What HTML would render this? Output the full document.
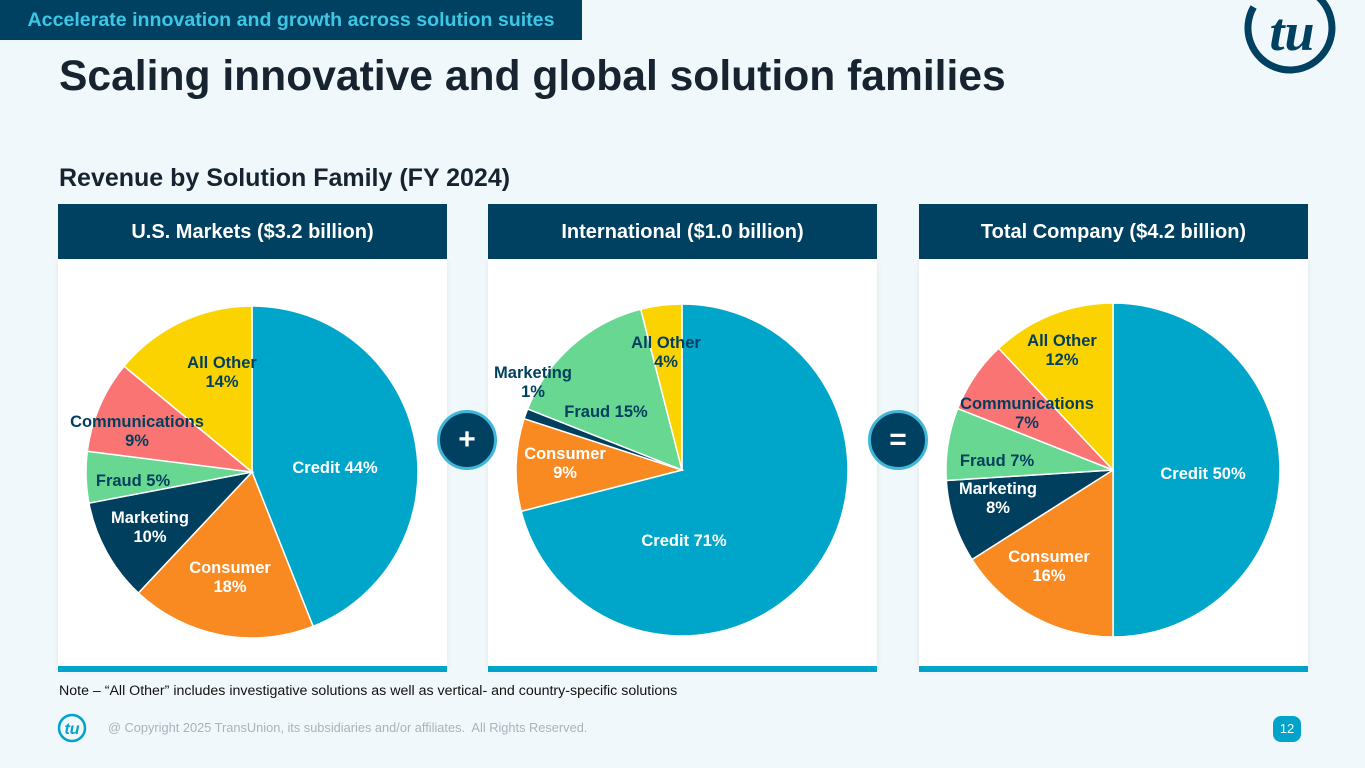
<!DOCTYPE html>
<html><head><meta charset="utf-8"><style>
body{margin:0;width:1365px;height:768px;background:#f1f8fc;font-family:"Liberation Sans",sans-serif;position:relative;overflow:hidden}
.a{position:absolute}
.hdr{background:#004060;color:#fff;font-weight:bold;font-size:20px;text-align:center;line-height:56px;height:56px;top:204px;width:389px}
.body{background:#fff;top:259px;height:408px;width:389px;box-shadow:0 2px 6px rgba(0,0,0,.08)}
.bar{background:#00a3c9;top:666px;height:6px;width:389px}
.op{width:60px;height:60px;border-radius:50%;background:#004060;border:3px solid #3fb7d8;box-sizing:border-box;color:#fff;font-size:30px;font-weight:bold;text-align:center;line-height:54px;top:410px}
</style></head><body>
<div class="a" style="left:0;top:0;width:582px;height:40px;background:#004060;color:#3ec6e6;font-weight:bold;font-size:19.6px;line-height:40px;text-align:center">Accelerate innovation and growth across solution suites</div>
<svg class="a" style="left:1236px;top:0" width="110" height="80" viewBox="0 0 110 80"><path d="M54 -14 A42 42 0 1 1 17.6 7" fill="none" stroke="#004060" stroke-width="7"/><text x="56" y="50" font-size="54" font-weight="bold" font-style="italic" fill="#004060" text-anchor="middle" font-family="Liberation Serif">tu</text></svg>
<div class="a" style="left:59px;top:52px;font-size:42.6px;font-weight:bold;color:#172430">Scaling innovative and global solution families</div>
<div class="a" style="left:59px;top:164px;font-size:25px;font-weight:bold;color:#172430">Revenue by Solution Family (FY 2024)</div>

<div class="a hdr" style="left:58px">U.S. Markets ($3.2 billion)</div>
<div class="a hdr" style="left:488px">International ($1.0 billion)</div>
<div class="a hdr" style="left:919px">Total Company ($4.2 billion)</div>
<div class="a body" style="left:58px"></div>
<div class="a body" style="left:488px"></div>
<div class="a body" style="left:919px"></div>
<div class="a bar" style="left:58px"></div>
<div class="a bar" style="left:488px"></div>
<div class="a bar" style="left:919px"></div>

<svg id="pies" class="a" style="left:0;top:0" width="1365" height="768"></svg>

<div class="a op" style="left:437px">+</div>
<div class="a op" style="left:868px">=</div>

<div class="a" style="left:59px;top:683px;font-size:14.2px;color:#111">Note – “All Other” includes investigative solutions as well as vertical- and country-specific solutions</div>
<svg class="a" style="left:56px;top:712px" width="32" height="32" viewBox="0 0 32 32"><circle cx="16" cy="16" r="13" fill="none" stroke="#00a3c9" stroke-width="2.5"/><text x="16" y="22" font-size="16" font-weight="bold" font-style="italic" fill="#00a3c9" text-anchor="middle">tu</text></svg>
<div class="a" style="left:108px;top:720px;font-size:12.8px;color:#a9b3ba">@ Copyright 2025 TransUnion, its subsidiaries and/or affiliates.&nbsp; All Rights Reserved.</div>
<div class="a" style="left:1273px;top:716px;width:28px;height:26px;border-radius:8px;background:#00a3c9;color:#fff;font-size:13px;text-align:center;line-height:26px">12</div>

<script>
const usCategories=["Credit","Consumer","Marketing","Fraud","Communications","All Other"];
const usValues=[44,18,10,5,9,14];
const intlCategories=["Credit","Consumer","Marketing","Fraud","All Other"];
const intlValues=[71,9,1,15,4];
const totalCategories=["Credit","Consumer","Marketing","Fraud","Communications","All Other"];
const totalValues=[50,16,8,7,7,12];

const colors={"Credit":"#00a6ca","Consumer":"#f98a22","Marketing":"#003f5e","Fraud":"#68d792","Communications":"#fb7474","All Other":"#fbd300"};
const textCol={"Credit":"#fff","Consumer":"#fff","Marketing":"#fff","Fraud":"#003f5e","Communications":"#003f5e","All Other":"#003f5e"};
const NS="http://www.w3.org/2000/svg";
const svg=document.getElementById('pies');
function pie(cx,cy,r,cats,vals,labelPos,twoLine,name){
  const tot=vals.reduce((a,b)=>a+b,0);let acc=0;
  cats.forEach((c,i)=>{
    const a0=acc/tot*2*Math.PI;acc+=vals[i];const a1=acc/tot*2*Math.PI;
    const x0=cx+r*Math.sin(a0),y0=cy-r*Math.cos(a0),x1=cx+r*Math.sin(a1),y1=cy-r*Math.cos(a1);
    const p=document.createElementNS(NS,'path');
    p.setAttribute('d',`M${cx} ${cy}L${x0} ${y0}A${r} ${r} 0 ${a1-a0>Math.PI?1:0} 1 ${x1} ${y1}Z`);
    p.setAttribute('fill',colors[c]);p.setAttribute('stroke','#fff');p.setAttribute('stroke-width','1.5');
    
    
    svg.appendChild(p);
  });
  cats.forEach((c,i)=>{
    const [lx,ly]=labelPos[i];
    const t=document.createElementNS(NS,'text');
    t.setAttribute('text-anchor','middle');t.setAttribute('font-size','16.5');t.setAttribute('font-weight','bold');
    const small=vals[i]<=2;
    t.setAttribute('fill',small?'#003f5e':textCol[c]);
    
    
    if(twoLine[i]){
      const s1=document.createElementNS(NS,'tspan');s1.setAttribute('x',lx);s1.setAttribute('y',ly-4);s1.textContent=c;
      const s2=document.createElementNS(NS,'tspan');s2.setAttribute('x',lx);s2.setAttribute('y',ly+15);s2.textContent=vals[i]+'%';
      t.appendChild(s1);t.appendChild(s2);
    } else {t.setAttribute('x',lx);t.setAttribute('y',ly+6);t.textContent=c+' '+vals[i]+'%';}
    svg.appendChild(t);
  });
}
pie(252,472,166,usCategories,usValues,[[335,467],[230,577],[150,527],[133,480],[137,431],[222,372]],[0,1,1,0,1,1],'us');
pie(682,470,166,intlCategories,intlValues,[[684,540],[565,463],[533,382],[606,411],[666,352]],[0,1,1,0,1],'intl');
pie(1113,470,167,totalCategories,totalValues,[[1203,473],[1049,566],[998,498],[997,460],[1027,413],[1062,350]],[0,1,1,0,1,1],'total');
</script>
</body></html>
